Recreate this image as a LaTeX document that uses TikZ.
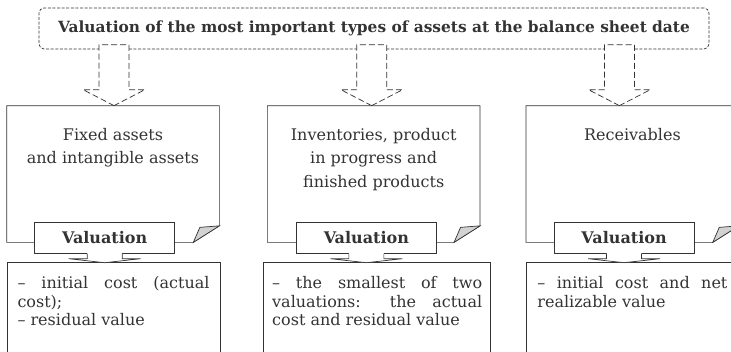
\documentclass[tikz,border=0pt]{standalone}
\usepackage{fontspec}
\setmainfont{DejaVu Serif}
\usetikzlibrary{positioning,calc}

\begin{document}
\begin{tikzpicture}[x=1pt, y=-1pt, line width=0.7pt, color=black!80,
        every node/.style={font=\fontsize{16}{23.5}\selectfont},
        heading/.style={draw, dash pattern=on 3pt off 1.6pt, rounded corners=5pt, minimum width=670pt, minimum height=41pt, inner sep=0pt, font=\fontsize{15.4}{18}\selectfont\bfseries},
        sheet/.style={minimum width=212pt, minimum height=136pt, inner sep=0pt},
        caption/.style={align=center, inner sep=0pt},
        valbox/.style={draw, fill=white, minimum width=140pt, minimum height=31pt, inner sep=0pt, font=\fontsize{16}{18}\selectfont\bfseries},
        result/.style={draw, anchor=north west, align=justify, inner xsep=3pt, inner ysep=14pt, text depth=90pt, font=\fontsize{16}{18.5}\selectfont},
        hollow/.style={fill=white, dash pattern=on 6pt off 3pt},
        curl/.style={fill=gray!35}
    ]
        \path[use as bounding box, clip] (0,0) rectangle (731,351);

        \node [heading] (title) at (374,28.5) {Valuation of the most important types of assets at the balance sheet date};
        \node [sheet] (fixed) at (113,174) {};
        \node [sheet, right=48pt of fixed] (inv) {};
        \node [sheet, right=46pt of inv] (rec) {};

        \foreach \s in {fixed,inv,rec} {
            \draw (\s.south west) -- (\s.north west) -- (\s.north east) -- ($(\s.south east)+(0,-16.5)$) -- ($(\s.south east)+(-26,0)$) -- cycle;
            \filldraw [curl] ($(\s.south east)+(-26,0)$) -- ++(6.5,-15) -- ($(\s.south east)+(0,-16.5)$) -- cycle;
        }

        \node [caption, below=22pt of fixed.north] (fixedtxt) {Fixed assets\\and intangible assets};
        \node [caption, below=22pt of inv.north] (invtxt) {Inventories, product\\in progress and\\finished products};
        \node [caption, below=22pt of rec.north] (rectxt) {Receivables};

        \foreach \s/\dx in {fixed/1,inv/-2,rec/-13}
            \filldraw [hollow] ($(\s.north)+(\dx,0)$) -- ++(-31,-16) -- ++(16,0) -- ++(0,-45) -- ++(30,0) -- ++(0,45) -- ++(16,0) -- cycle;

        \node [valbox] (fixedval) at ($(fixed.south west)+(98,-4.5)$) {Valuation};
        \node [valbox] (invval) at ($(inv.south west)+(99,-4.5)$) {Valuation};
        \node [valbox] (recval) at ($(rec.south west)+(98,-4.5)$) {Valuation};

        \node [result, minimum width=213pt, text width=192pt] (fixedres) at ($(fixed.south west)+(0,20)$) {-- initial cost (actual\linebreak cost);\\-- residual value};
        \node [result, minimum width=227pt, text width=210pt] (invres) at ($(inv.south west)+(-4,20)$) {-- the smallest of two\linebreak valuations: the actual\linebreak cost and residual value};
        \node [result, minimum width=212pt, text width=190pt] (recres) at ($(rec.south west)+(0,20)$) {-- initial cost and net\linebreak realizable value};

        \foreach \v in {fixedval,invval,recval} {
            \fill [white] ($(\v.south)+(-17.5,-1)$) -- ++(0,6) -- ++(-18.5,0) -- ($(\v.south)+(0,9)$) -- ++(36,-4) -- ++(-18.5,0) -- ++(0,-6) -- cycle;
            \draw ($(\v.south)+(-17.5,0)$) -- ++(0,5) -- ++(-18.5,0) -- ($(\v.south)+(0,9)$) -- ++(36,-4) -- ++(-18.5,0) -- ++(0,-5);
        }

    \end{tikzpicture}
\end{document}
